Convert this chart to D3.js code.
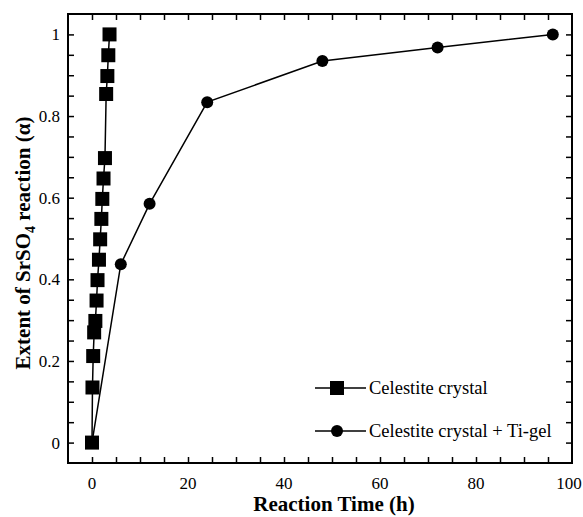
<!DOCTYPE html>
<html>
<head>
<meta charset="utf-8">
<script src="https://cdn.jsdelivr.net/npm/d3@7"></script>
<style>
  body { margin: 0; background: #fff; }
  text { font-family: "Liberation Serif", "Times New Roman", serif; }
</style>
</head>
<body>
<div id="chart"></div>
<script>
// celestite crystal only (squares)
const crystalTime = [0, 0.1, 0.25, 0.45, 0.7, 0.95, 1.15, 1.45, 1.7, 1.95, 2.15, 2.4, 2.7, 2.95, 3.2, 3.4, 3.65];
const crystalAlpha = [0, 0.135, 0.212, 0.27, 0.298, 0.348, 0.398, 0.448, 0.498, 0.548, 0.597, 0.647, 0.697, 0.854, 0.898, 0.949, 1.0];
// celestite crystal + Ti-gel (circles)
const gelTime = [0, 6, 12, 24, 48, 72, 96];
const gelAlpha = [0, 0.437, 0.585, 0.834, 0.935, 0.968, 1.0];

const xTicks = [0, 20, 40, 60, 80, 100];
const yTicks = [0, 0.2, 0.4, 0.6, 0.8, 1];
const legendLabels = ["Celestite crystal", "Celestite crystal + Ti-gel"];

const W = 583, H = 517;
const m = { left: 68, right: 11, top: 14, bottom: 54 };
const iw = W - m.left - m.right, ih = H - m.top - m.bottom;

const svg = d3.select("#chart").append("svg").attr("width", W).attr("height", H);
const g = svg.append("g").attr("transform", `translate(${m.left},${m.top})`);

const x = d3.scaleLinear().domain([-5, 100]).range([0, iw]);
const y = d3.scaleLinear().domain([-0.05, 1.05]).range([ih, 0]);

const minorX = d3.range(0, 100, 5);
const minorY = d3.range(0, 1.0001, 0.05);

// tick marks inward on all four sides
const tickLen = 6;
g.append("g").attr("transform", `translate(0,${ih})`)
  .call(d3.axisBottom(x).tickValues(minorX).tickSize(-tickLen).tickFormat(""));
g.append("g")
  .call(d3.axisTop(x).tickValues(minorX).tickSize(-tickLen).tickFormat(""));
g.append("g")
  .call(d3.axisLeft(y).tickValues(minorY).tickSize(-tickLen).tickFormat(""));
g.append("g").attr("transform", `translate(${iw},0)`)
  .call(d3.axisRight(y).tickValues(minorY).tickSize(-tickLen).tickFormat(""));
g.selectAll(".domain").remove();
g.selectAll(".tick line").attr("stroke", "#000").attr("stroke-width", 1.5);

// labels (last one nudged so it stays inside the window)
g.append("g").selectAll("text").data(xTicks).enter().append("text")
  .attr("x", d => Math.min(x(d), W - m.left - 14)).attr("y", ih + 26)
  .attr("text-anchor", "middle").style("font-size", "17px")
  .text(d => d);
g.append("g").selectAll("text").data(yTicks).enter().append("text")
  .attr("x", -8).attr("y", d => y(d) + 6)
  .attr("text-anchor", "end").style("font-size", "17px")
  .text(d => d);

// frame
g.append("rect").attr("width", iw).attr("height", ih)
  .attr("fill", "none").attr("stroke", "#000").attr("stroke-width", 2);

const line = d3.line().x(d => x(d[0])).y(d => y(d[1]));
const gelPts = gelTime.map((t, i) => [t, gelAlpha[i]]);
const crystalPts = crystalTime.map((t, i) => [t, crystalAlpha[i]]);

g.append("path").datum(gelPts).attr("d", line)
  .attr("fill", "none").attr("stroke", "#000").attr("stroke-width", 1.5);
g.selectAll("circle.gel").data(gelPts.slice(1)).enter().append("circle")
  .attr("class", "gel").attr("cx", d => x(d[0])).attr("cy", d => y(d[1])).attr("r", 6);

g.append("path").datum(crystalPts).attr("d", line)
  .attr("fill", "none").attr("stroke", "#000").attr("stroke-width", 1.5);
const sq = 14;
g.selectAll("rect.cry").data(crystalPts).enter().append("rect")
  .attr("class", "cry")
  .attr("x", d => x(d[0]) - sq / 2).attr("y", d => y(d[1]) - sq / 2)
  .attr("width", sq).attr("height", sq);

// legend
const lg = svg.append("g").attr("transform", "translate(315,388)");
[0, 1].forEach(i => {
  const row = lg.append("g").attr("transform", `translate(0,${i * 43})`);
  row.append("line").attr("x1", 0).attr("x2", 51).attr("stroke", "#000").attr("stroke-width", 1.5);
  if (i === 0) row.append("rect").attr("x", 22 - sq / 2).attr("y", -sq / 2).attr("width", sq).attr("height", sq);
  else row.append("circle").attr("cx", 22).attr("r", 6);
  row.append("text").attr("x", 54).attr("y", 6).style("font-size", "18.5px").text(legendLabels[i]);
});

// axis titles
svg.append("text").attr("x", 334).attr("y", 511)
  .attr("text-anchor", "middle").style("font-size", "21px").style("font-weight", "bold")
  .text("Reaction Time (h)");

const yt = svg.append("text")
  .attr("transform", `translate(30,243) rotate(-90)`)
  .attr("text-anchor", "middle").style("font-size", "21px").style("font-weight", "bold");
yt.append("tspan").text("Extent of SrSO");
yt.append("tspan").attr("dy", 5).style("font-size", "14px").text("4");
yt.append("tspan").attr("dy", -5).text(" reaction (α)");
</script>
</body>
</html>
